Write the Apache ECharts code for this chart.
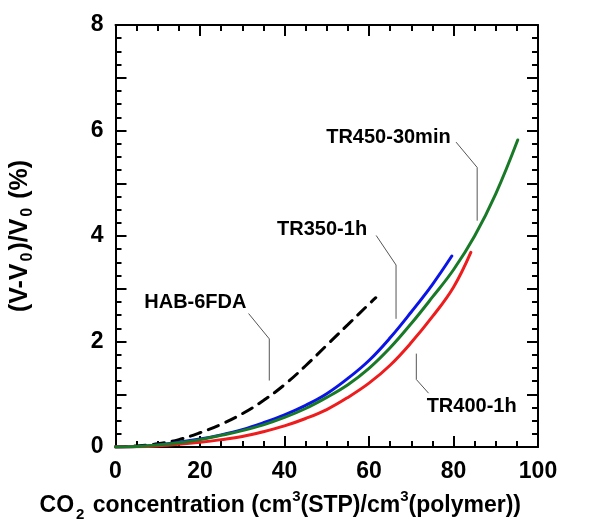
<!DOCTYPE html>
<html>
<head>
<meta charset="utf-8">
<script src="https://cdn.jsdelivr.net/npm/echarts@6/dist/echarts.min.js"></script>
<style>
  html, body { margin: 0; padding: 0; background: #fff; }
  #chart { width: 601px; height: 529px; }
</style>
</head>
<body>
<div id="chart"></div>
<script>
// Volume dilation of films versus sorbed CO2 concentration
const habX   = [0, 5, 10, 15, 20, 25, 30, 35, 40, 45, 50, 55, 60, 61.6];
const habY   = [0, 0.02, 0.06, 0.14, 0.27, 0.43, 0.63, 0.88, 1.18, 1.54, 1.93, 2.32, 2.71, 2.83];

const tr350X = [0, 5, 10, 15, 20, 25, 30, 35, 40, 45, 50, 55, 60, 65, 70, 75, 79.6];
const tr350Y = [0, 0.01, 0.04, 0.09, 0.15, 0.23, 0.33, 0.46, 0.61, 0.79, 1.01, 1.30, 1.64, 2.07, 2.56, 3.08, 3.62];

const tr400X = [0, 5, 10, 15, 20, 25, 30, 35, 40, 45, 50, 55, 60, 65, 70, 75, 80, 84.1];
const tr400Y = [0, 0.005, 0.02, 0.05, 0.09, 0.14, 0.20, 0.29, 0.40, 0.54, 0.71, 0.94, 1.21, 1.55, 1.98, 2.47, 3.03, 3.69];

const tr450X = [0, 5, 10, 15, 20, 25, 30, 35, 40, 45, 50, 55, 60, 65, 70, 75, 80, 85, 90, 95.2];
const tr450Y = [0, 0.01, 0.04, 0.08, 0.14, 0.22, 0.31, 0.42, 0.56, 0.73, 0.94, 1.18, 1.49, 1.88, 2.34, 2.84, 3.36, 4.00, 4.80, 5.82];

// tick label values
const xTicks = [0, 20, 40, 60, 80, 100];
const yTicks = [0, 2, 4, 6, 8];

// curve names and annotation anchors (data units)
const names = ['HAB-6FDA', 'TR350-1h', 'TR400-1h', 'TR450-30min'];
const labelPos = [[18.9, 2.74], [48.9, 4.12], [84.3, 0.77], [64.6, 5.87]];
const leaders = [
  [[31.5, 2.53], [36.4, 2.05], [36.4, 1.26]],
  [[61.7, 4.01], [66.4, 3.45], [66.4, 2.43]],
  [[71.2, 1.77], [71.2, 1.28], [74.1, 1.02]],
  [[80.6, 5.78], [85.6, 5.30], [85.6, 4.29]]
];

const zip = (xs, ys) => xs.map((x, i) => [x, ys[i]]);
const FONT = '"Liberation Sans", Arial, sans-serif';

const chart = echarts.init(document.getElementById('chart'), null, { renderer: 'canvas' });

const tickStyle = { color: '#000', width: 2 };
const baseX = {
  type: 'value', min: 0, max: 100, interval: 20,
  axisLine: { show: true, onZero: false, lineStyle: { color: '#000', width: 2 } },
  axisTick: { show: true, inside: true, length: 11, lineStyle: tickStyle },
  minorTick: { show: true, splitNumber: 4, length: 6, lineStyle: tickStyle },
  splitLine: { show: false }
};
const baseY = {
  type: 'value', min: 0, max: 8, interval: 1,
  axisLine: { show: true, onZero: false, lineStyle: { color: '#000', width: 2 } },
  axisTick: { show: true, inside: true, length: 11, lineStyle: tickStyle },
  minorTick: { show: true, splitNumber: 4, length: 6, lineStyle: tickStyle },
  splitLine: { show: false }
};

const curve = (name, data, color, dashed) => ({
  name, type: 'line', data, smooth: 0.4, showSymbol: false, symbol: 'none',
  lineStyle: { color, width: 3, type: dashed ? [11, 8] : 'solid', cap: 'round' },
  z: 3, silent: true
});

const series = [
  curve(names[0], zip(habX, habY), '#000000', true),
  curve(names[1], zip(tr350X, tr350Y), '#0a14e6', false),
  curve(names[2], zip(tr400X, tr400Y), '#ee1c1c', false),
  curve(names[3], zip(tr450X, tr450Y), '#187a26', false)
];

leaders.forEach(pts => series.push({
  type: 'line', data: pts, symbol: 'none', silent: true, z: 2,
  lineStyle: { color: '#555', width: 1 }
}));

chart.setOption({
  animation: false,
  backgroundColor: '#fff',
  grid: { left: 115, right: 63, top: 25, bottom: 82, containLabel: false },
  xAxis: [
    Object.assign({}, baseX, {
      position: 'bottom',
      axisLabel: {
        margin: 13, fontFamily: FONT, fontWeight: 'bold', fontSize: 23, color: '#000',
        formatter: v => xTicks.includes(v) ? String(v) : ''
      },
      name: '{b|CO}{sub|2}{b| concentration (cm}{sup|3}{b|(STP)/cm}{sup|3}{b|(polymer))}',
      nameLocation: 'middle', nameGap: 42,
      nameTextStyle: {
        padding: [0, 93, 0, 0],
        rich: {
          b: { fontFamily: FONT, fontWeight: 'bold', fontSize: 23, color: '#000' },
          sub: { fontFamily: FONT, fontWeight: 'bold', fontSize: 15, color: '#000', verticalAlign: 'bottom', padding: [18, 2, 0, 2] },
          sup: { fontFamily: FONT, fontWeight: 'bold', fontSize: 15, color: '#000', verticalAlign: 'top', padding: [0, 0, 10, 0] }
        }
      }
    }),
    Object.assign({}, baseX, { position: 'top', axisLabel: { show: false } })
  ],
  yAxis: [
    Object.assign({}, baseY, {
      position: 'left',
      axisLabel: {
        margin: 12, fontFamily: FONT, fontWeight: 'bold', fontSize: 23, color: '#000',
        formatter: v => yTicks.includes(v) ? String(v) : ''
      },
      name: '{b|(V-V}{sub|0}{b|)/V}{sub|0}{b| (%)}',
      nameLocation: 'middle', nameGap: 80, nameRotate: 90,
      nameTextStyle: {
        rich: {
          b: { fontFamily: FONT, fontWeight: 'bold', fontSize: 25, color: '#000' },
          sub: { fontFamily: FONT, fontWeight: 'bold', fontSize: 16, color: '#000', verticalAlign: 'bottom', padding: [14, 2, 0, 2] }
        }
      }
    }),
    Object.assign({}, baseY, { position: 'right', axisLabel: { show: false } })
  ],
  series
});

// curve name annotations, placed through the axes' own scales
const graphic = names.map((n, i) => {
  const p = chart.convertToPixel({ xAxisIndex: 0, yAxisIndex: 0 }, labelPos[i]);
  return {
    type: 'text', x: p[0], y: p[1], z: 10, silent: true,
    style: {
      text: n, fill: '#000', align: 'center', verticalAlign: 'middle',
      font: 'bold 20px ' + FONT
    }
  };
});
chart.setOption({ graphic });
</script>
</body>
</html>
